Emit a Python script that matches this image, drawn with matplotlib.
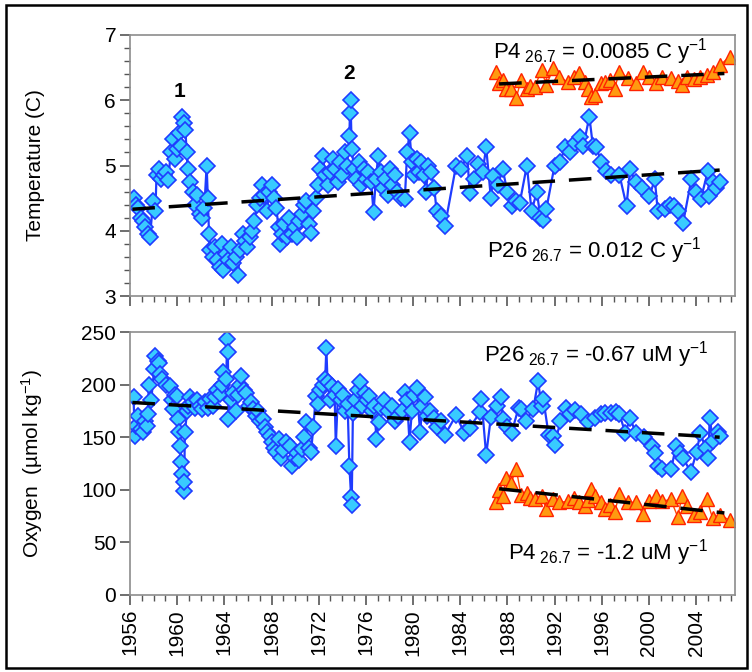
import matplotlib
matplotlib.use("Agg")
import matplotlib.pyplot as plt
from matplotlib.patches import Rectangle
from matplotlib.ticker import MultipleLocator

plt.rcParams["font.family"] = ["Liberation Sans", "DejaVu Sans"]
plt.rcParams["mathtext.fontset"] = "custom"
plt.rcParams["mathtext.rm"] = "Liberation Sans"
plt.rcParams["mathtext.it"] = "Liberation Sans:italic"

# P26 temperature on 26.7 surface
p26_temp_years = [
    1956.3, 1956.5, 1956.7, 1956.9, 1957.1, 1957.3, 1957.5, 1957.7, 1957.95, 1958.15,
    1958.25, 1958.45, 1958.65, 1958.85, 1959.05, 1959.25, 1959.45, 1959.65, 1959.85, 1959.95,
    1960.15, 1960.3, 1960.4, 1960.55, 1960.7, 1960.8, 1960.9, 1961.1, 1961.3, 1961.5,
    1961.7, 1961.9, 1962.1, 1962.3, 1962.5, 1962.6, 1962.7, 1962.8, 1963.0, 1963.2,
    1963.4, 1963.6, 1963.8, 1963.9, 1964.15, 1964.35, 1964.55, 1964.75, 1964.95, 1965.15,
    1965.35, 1965.55, 1965.75, 1965.95, 1966.15, 1966.35, 1966.55, 1966.8, 1967.0, 1967.2,
    1967.4, 1967.6, 1967.8, 1968.0, 1968.2, 1968.4, 1968.6, 1968.7, 1968.9, 1969.1,
    1969.3, 1969.5, 1969.7, 1969.95, 1970.15, 1970.35, 1970.55, 1970.75, 1970.95, 1971.15,
    1971.35, 1971.55, 1971.75, 1971.95, 1972.15, 1972.35, 1972.55, 1972.75, 1972.95, 1973.2,
    1973.4, 1973.6, 1973.8, 1974.0, 1974.2, 1974.4, 1974.6, 1974.65, 1974.7, 1974.8,
    1975.0, 1975.2, 1975.4, 1975.6, 1975.8, 1976.0, 1976.2, 1976.45, 1976.65, 1976.85,
    1977.05, 1977.25, 1977.45, 1977.65, 1977.85, 1978.05, 1978.25, 1978.45, 1978.65, 1978.95,
    1979.3, 1979.5, 1979.7, 1979.9, 1980.1, 1980.3, 1980.5, 1980.7, 1980.9, 1981.1,
    1981.3, 1981.5, 1981.8, 1982.0, 1982.35, 1982.7, 1983.65, 1984.05, 1984.6, 1984.8,
    1985.2, 1985.5, 1985.9, 1986.2, 1986.6, 1986.8, 1987.2, 1987.6, 1988.0, 1988.35,
    1988.75, 1989.05, 1989.65, 1990.05, 1990.5, 1990.8, 1991.05, 1991.3, 1992.0, 1992.5,
    1992.85, 1993.3, 1993.75, 1994.15, 1994.45, 1994.95, 1995.25, 1995.55, 1995.95, 1996.35,
    1996.75, 1997.5, 1998.1, 1998.4, 1998.9, 1999.4, 2000.05, 2000.5, 2000.75, 2001.35,
    2001.75, 2002.15, 2002.45, 2002.9, 2003.6, 2004.0, 2004.4, 2005.0, 2005.1, 2005.4,
    2005.7, 2006.0,
]
p26_temp = [
    4.50, 4.40, 4.35, 4.20, 4.15, 4.05, 3.95, 3.90, 4.45, 4.30,
    4.85, 4.95, 4.80, 4.85, 4.90, 4.78, 5.20, 5.40, 5.10, 5.25,
    5.50, 5.30, 5.75, 5.65, 5.55, 5.20, 4.95, 4.75, 4.60, 4.40,
    4.55, 4.25, 4.20, 4.35, 5.00, 4.50, 3.95, 3.70, 3.60, 3.75,
    3.55, 3.45, 3.80, 3.40, 3.65, 3.55, 3.75, 3.50, 3.60, 3.32,
    3.70, 3.95, 3.85, 3.75, 3.90, 4.00, 4.15, 4.40, 4.50, 4.70,
    4.55, 4.30, 4.60, 4.70, 4.50, 4.35, 4.05, 3.80, 3.95, 4.10,
    3.90, 4.20, 3.95, 4.05, 3.90, 4.15, 4.25, 4.40, 4.45, 4.10,
    3.97, 4.30, 4.50, 4.70, 4.95, 5.15, 4.85, 4.70, 4.90, 5.10,
    4.95, 4.75, 5.05, 4.85, 5.20, 5.00, 5.45, 5.80, 6.00, 5.25,
    4.95, 4.80, 5.05, 4.70, 4.95, 4.80, 4.90, 4.75, 4.28, 4.80,
    5.15, 4.90, 4.65, 4.80, 4.55, 4.95, 4.70, 4.85, 4.60, 4.50,
    4.48, 5.20, 5.50, 5.05, 4.85, 5.10, 4.90, 5.05, 4.85, 4.60,
    5.00, 4.90, 4.65, 4.30, 4.22, 4.07, 5.00, 4.95, 5.15, 4.58,
    4.80, 5.02, 4.90, 5.28, 4.50, 4.84, 4.70, 4.94, 4.60, 4.38,
    4.45, 4.43, 5.00, 4.30, 4.60, 4.20, 4.17, 4.33, 5.00, 5.05,
    5.28, 5.20, 5.35, 5.43, 5.30, 5.75, 5.30, 5.28, 5.05, 4.92,
    4.86, 4.86, 4.38, 4.94, 4.74, 4.65, 4.53, 4.79, 4.30, 4.33,
    4.40, 4.38, 4.30, 4.12, 4.79, 4.60, 4.48, 4.92, 4.53, 4.74,
    4.65, 4.74,
]

# P26 oxygen on 26.7 surface
p26_oxy_years = [
    1956.3, 1956.4, 1956.55, 1956.7, 1956.9, 1957.1, 1957.3, 1957.4, 1957.5, 1957.6,
    1957.8, 1958.05, 1958.15, 1958.35, 1958.45, 1958.55, 1958.75, 1959.05, 1959.35, 1959.55,
    1959.65, 1959.85, 1959.95, 1960.05, 1960.15, 1960.25, 1960.35, 1960.45, 1960.55, 1960.6,
    1960.65, 1960.85, 1960.95, 1961.1, 1961.3, 1961.5, 1961.7, 1961.9, 1962.1, 1962.4,
    1962.6, 1962.8, 1963.0, 1963.2, 1963.4, 1963.6, 1963.8, 1963.9, 1964.15, 1964.25,
    1964.3, 1964.35, 1964.55, 1964.75, 1964.95, 1965.15, 1965.35, 1965.45, 1965.65, 1965.85,
    1966.05, 1966.25, 1966.45, 1966.65, 1966.85, 1967.05, 1967.25, 1967.45, 1967.65, 1967.85,
    1968.05, 1968.25, 1968.4, 1968.6, 1968.8, 1969.0, 1969.2, 1969.55, 1969.75, 1969.95,
    1970.15, 1970.35, 1970.55, 1970.75, 1970.95, 1971.15, 1971.35, 1971.55, 1971.75, 1971.95,
    1972.15, 1972.35, 1972.55, 1972.65, 1972.75, 1972.95, 1973.15, 1973.35, 1973.45, 1973.65,
    1973.85, 1974.05, 1974.25, 1974.45, 1974.6, 1974.75, 1974.8, 1974.9, 1975.1, 1975.3,
    1975.5, 1975.7, 1975.9, 1976.1, 1976.3, 1976.5, 1976.7, 1976.9, 1977.1, 1977.3,
    1977.5, 1977.85, 1978.25, 1978.45, 1978.75, 1979.05, 1979.3, 1979.5, 1979.7, 1979.9,
    1980.1, 1980.3, 1980.6, 1980.8, 1981.0, 1981.2, 1981.4, 1981.75, 1982.05, 1982.35,
    1982.7, 1983.65, 1984.35, 1984.8, 1985.7, 1985.8, 1986.2, 1986.6, 1987.1, 1987.5,
    1987.6, 1988.0, 1988.35, 1988.95, 1989.15, 1989.55, 1990.2, 1990.6, 1990.9, 1991.05,
    1991.5, 1991.9, 1992.0, 1992.5, 1993.0, 1993.3, 1993.75, 1994.25, 1994.85, 1995.45,
    1995.9, 1996.3, 1996.8, 1997.2, 1997.5, 1998.0, 1998.4, 1998.9, 1999.55, 2000.25,
    2000.55, 2000.75, 2001.15, 2001.9, 2002.3, 2002.6, 2002.9, 2003.55, 2004.05, 2004.35,
    2004.8, 2005.05, 2005.15, 2005.45, 2005.9, 2006.05,
]
p26_oxy = [
    188, 151, 161, 170, 158, 155, 165, 161, 172, 200,
    185, 215, 227, 222, 221, 210, 205, 200, 199, 185,
    177, 190, 189, 167, 155, 142, 126, 115, 99, 107,
    155, 175, 180, 188, 183, 178, 185, 180, 177, 183,
    178, 186, 180, 188, 195, 191, 200, 212, 205, 243,
    231, 167, 185, 192, 175, 190, 200, 208, 195, 192,
    180, 183, 177, 170, 175, 165, 167, 160, 155, 151,
    145, 140, 136, 148, 130, 138, 145, 142, 123, 130,
    135, 128, 139, 150, 164, 140, 136, 160, 189, 182,
    195, 200, 205, 235, 202, 185, 199, 190, 142, 196,
    185, 190, 175, 182, 123, 93, 86, 173, 185, 195,
    202, 180, 192, 185, 189, 175, 180, 148, 164, 178,
    185, 175, 180, 165, 170, 175, 193, 185, 145, 175,
    190, 197, 155, 180, 188, 170, 175, 168, 160, 165,
    152, 171, 154, 159, 174, 186, 133, 169, 180, 188,
    167, 160, 154, 178, 177, 165, 177, 203, 180, 186,
    152, 151, 143, 165, 178, 172, 176, 172, 164, 168,
    172, 173, 173, 174, 172, 154, 168, 154, 150, 142,
    135, 123, 120, 120, 142, 135, 130, 117, 136, 154,
    140, 130, 168, 146, 155, 151,
]

# P4 on 26.7 surface
p4_years = [
    1987.0, 1987.3, 1987.6, 1987.9, 1988.3, 1988.75, 1989.15, 1989.65, 1989.95, 1990.3,
    1990.9, 1991.3, 1991.9, 1992.4, 1993.1, 1993.65, 1994.05, 1994.55, 1994.85, 1995.05,
    1995.4, 1995.9, 1996.25, 1996.7, 1997.1, 1997.5, 1998.2, 1998.9, 1999.5, 2000.0,
    2000.6, 2001.15, 2001.85, 2002.45, 2002.8, 2003.2, 2003.8, 2004.3, 2004.9, 2005.4,
    2006.05, 2006.85,
]
p4_temp = [
    6.44, 6.26, 6.31, 6.18, 6.18, 6.03, 6.31, 6.18, 6.22, 6.20,
    6.46, 6.23, 6.49, 6.36, 6.28, 6.35, 6.41, 6.28, 6.18, 6.05,
    6.08, 6.26, 6.28, 6.31, 6.18, 6.44, 6.34, 6.26, 6.44, 6.36,
    6.26, 6.36, 6.34, 6.30, 6.23, 6.36, 6.33, 6.36, 6.39, 6.44,
    6.54, 6.67,
]
p4_oxy = [
    88, 100, 94, 111, 106, 120, 95, 97, 92, 91,
    94, 82, 91, 88, 89, 92, 88, 85, 90, 101,
    94, 88, 82, 86, 79, 96, 88, 88, 77, 89,
    94, 89, 91, 74, 94, 85, 76, 79, 91, 73,
    76, 71,
]

# linear trends (end points)
p26_trend_years = [1956.2, 2006.0]
p26_temp_trend = [4.33, 4.93]
p26_oxy_trend = [183, 150]
p4_trend_years = [1987.3, 2006.4]
p4_temp_trend = [6.25, 6.41]
p4_oxy_trend = [101, 78]

year_ticks = list(range(1956, 2005, 4))

W, H = 752, 672
fig = plt.figure(figsize=(W / 100, H / 100), dpi=100)
ax1 = fig.add_axes([130 / W, 1 - 296 / H, 605 / W, 261 / H])
ax2 = fig.add_axes([130 / W, 1 - 595 / H, 605 / W, 263 / H])

blue_kw = dict(color="#1f3cff", lw=1.6, marker="D", ms=8.5,
               mfc="#38cbff", mec="#1f3cff", mew=1.2, zorder=2)
orange_kw = dict(color="#ff4a00", lw=1.0, marker="^", ms=10.5,
                 mfc="#ff9a10", mec="#ff2200", mew=1.0, zorder=2)
trend_kw = dict(color="black", lw=2.5, dashes=(6.5, 4), zorder=4)

ax1.plot(p26_temp_years, p26_temp, **blue_kw)
ax1.plot(p4_years, p4_temp, **orange_kw)
ax1.plot(p26_trend_years, p26_temp_trend, **trend_kw)
ax1.plot(p4_trend_years, p4_temp_trend, **trend_kw)

ax2.plot(p26_oxy_years, p26_oxy, **blue_kw)
ax2.plot(p4_years, p4_oxy, **orange_kw)
ax2.plot(p26_trend_years, p26_oxy_trend, **trend_kw)
ax2.plot(p4_trend_years, p4_oxy_trend, **trend_kw)

for ax in (ax1, ax2):
    ax.set_xlim(1956, 2007.3)
    ax.set_xticks(year_ticks)
    ax.xaxis.set_minor_locator(MultipleLocator(1))
    for s in ax.spines.values():
        s.set_color("#8c8c8c")
        s.set_linewidth(1.2)
    ax.tick_params(which="major", direction="out", length=7, width=1.2,
                   color="#555555", labelsize=15, pad=3)
    ax.tick_params(which="minor", direction="out", length=4, width=1,
                   color="#555555")

ax1.set_ylim(3, 7)
ax1.set_yticks([3, 4, 5, 6, 7])
ax1.yaxis.set_minor_locator(MultipleLocator(0.2))
ax1.tick_params(axis="x", labelbottom=False)
ax1.set_ylabel("Temperature (C)", fontsize=15)

ax2.set_ylim(0, 250)
ax2.set_yticks([0, 50, 100, 150, 200, 250])
ax2.set_xticklabels([str(y) for y in year_ticks], rotation=90)
ax2.set_ylabel("Oxygen  (\u00b5mol kg$^{-1}$)", fontsize=15)
ax1.yaxis.set_label_coords(-0.14, 0.5)
ax2.yaxis.set_label_coords(-0.14, 0.5)

ax1.text(1960.2, 6.13, "1", fontsize=15, fontweight="bold", ha="center", va="center")
ax1.text(1974.6, 6.41, "2", fontsize=15, fontweight="bold", ha="center", va="center")

txt_kw = dict(fontsize=16, ha="right", va="center")
ax1.text(2005.0, 6.74, r"P4$_{\ \mathrm{26.7}}$ = 0.0085 C y$^{-1}$", **txt_kw)
ax1.text(2004.5, 3.70, r"P26$_{\ \mathrm{26.7}}$ = 0.012 C y$^{-1}$", **txt_kw)
ax2.text(2005.1, 229, r"P26$_{\ \mathrm{26.7}}$ = -0.67 uM y$^{-1}$", **txt_kw)
ax2.text(2005.0, 40, r"P4$_{\ \mathrm{26.7}}$ = -1.2 uM y$^{-1}$", **txt_kw)

fig.patches.append(Rectangle((6 / W, 4 / H), 741 / W, 663 / H, transform=fig.transFigure,
                             fill=False, edgecolor="black", lw=1.8))

fig.savefig("out.png", dpi=100)
